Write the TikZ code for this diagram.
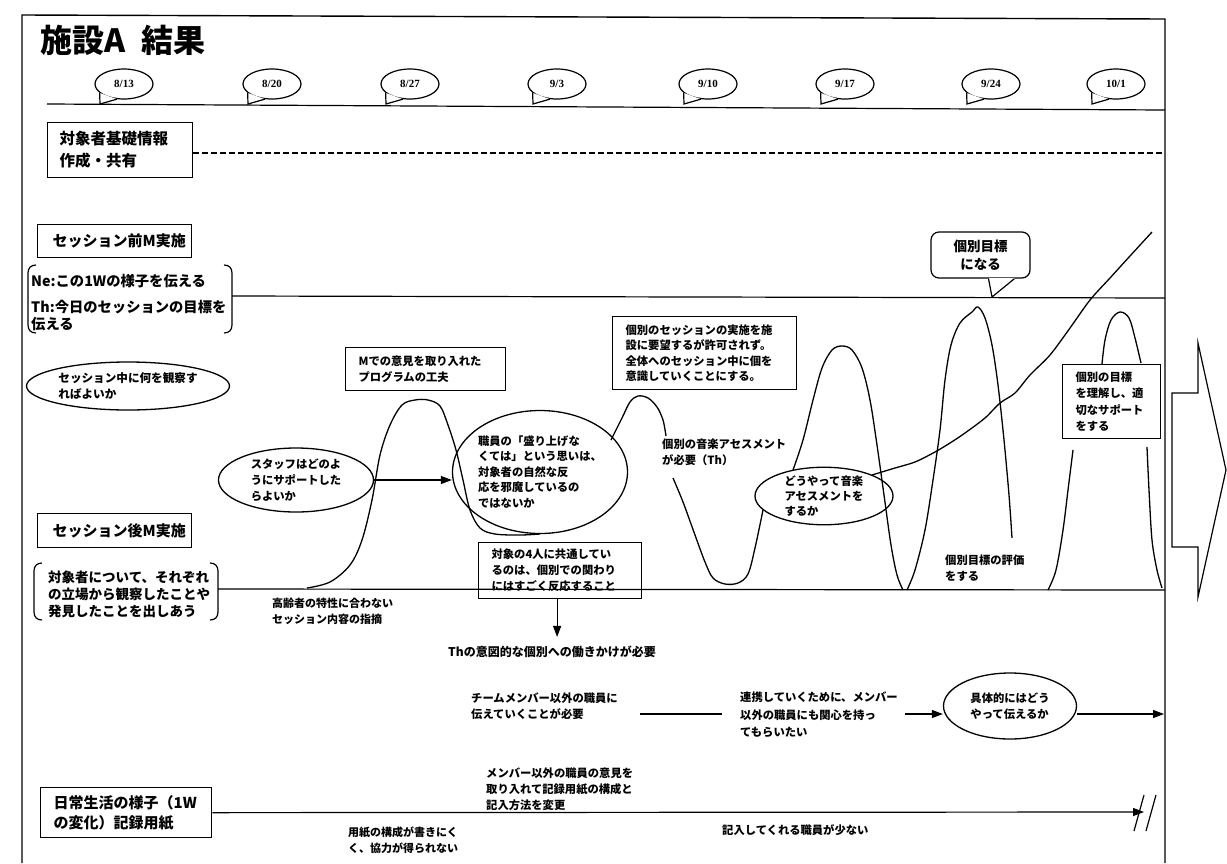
\documentclass[tikz,border=0pt]{standalone}
\usepackage{fontspec}
\setmainfont{Noto Sans CJK JP}
\newfontfamily\datefont{Liberation Serif}
\usetikzlibrary{arrows.meta,shapes.geometric,calc}
\tikzset{
 ln/.style={line width=1.2pt},
 outerframe/.style={line width=1.4pt},
 arr/.style={line width=1.2pt,-{Triangle[length=11pt,width=8pt]}},
 lblbox/.style={draw,line width=1.3pt,anchor=north west,inner ysep=0pt,align=left,font=\bfseries\fontsize{15}{21}\selectfont},
 ibox/.style={draw,line width=1.2pt,anchor=north west,inner ysep=0pt,align=left,font=\bfseries\fontsize{11.3}{16}\selectfont},
 ell/.style={draw,ellipse,line width=1.3pt,inner sep=0pt,align=left,font=\bfseries\fontsize{11.3}{16}\selectfont},
 txt/.style={anchor=west,inner sep=0pt,align=left,font=\bfseries\fontsize{11.3}{16}\selectfont},
 datebubble/.style={draw,ellipse,line width=1.2pt,minimum width=58pt,minimum height=30pt,inner sep=0pt,font=\datefont\bfseries\fontsize{11}{11}\selectfont},
 wave/.style={line width=1.3pt},
}
\newcommand\datebub[3]{%
 \node[datebubble] (#1) at (#2,84) {#3};
 \fill[white] (#1.200) -- ([shift={(-24,20)}]#1.center) -- (#1.245) -- cycle;
 \draw[ln] (#1.200) -- ([shift={(-24,20)}]#1.center) -- (#1.245);
}
\begin{document}
\begin{tikzpicture}[x=1pt,y=-1pt]
\useasboundingbox (0,0) rectangle (1227,863);
% outer frame
\draw[outerframe] (22,863) -- (22,15) -- (1165,19) -- (1165,863);
% title
\node[anchor=west,inner sep=0pt,font=\bfseries\fontsize{32}{32}\selectfont] (title) at (40,40) {施設A\hspace{0.5em}結果};
% date line and bubbles
\coordinate (dla) at (47,104);
\coordinate (dlb) at (1165,110);
\draw[ln] (dla) -- (dlb);
\datebub{d1}{124}{8/13}
\datebub{d2}{272}{8/20}
\datebub{d3}{410}{8/27}
\datebub{d4}{557}{9/3}
\datebub{d5}{708}{9/10}
\datebub{d6}{845}{9/17}
\datebub{d7}{991}{9/24}
\datebub{d8}{1116}{10/1}
% basic info box
\node[lblbox,minimum width=145pt,minimum height=55pt,text width=121pt,inner xsep=12pt,font=\bfseries\fontsize{15.5}{22}\selectfont] (kiso) at (47,122) {対象者基礎情報\\作成・共有};
\coordinate (dashend) at (1165,153);
\draw[ln,dash pattern=on 6pt off 3pt] (kiso.east |- dashend) -- (dashend);
% pre-session meeting
\node[lblbox,minimum width=154pt,minimum height=33pt,text width=124pt,inner xsep=15pt] (pre) at (37,224) {セッション前M実施};
\node[anchor=west,inner sep=0pt,align=left,font=\bfseries\fontsize{14.3}{17}\selectfont] (pretext) at (31,303) {Ne:この1Wの様子を伝える\\[9pt]Th:今日のセッションの目標を\\伝える};
\draw[ln] (36,265) .. controls (31,265) and (28,268) .. (28,273) -- (28,325) .. controls (28,330) and (31,333) .. (36,333);
\draw[ln] (224,265) .. controls (229,265) and (232,268) .. (232,273) -- (232,325) .. controls (232,330) and (229,333) .. (224,333);
\coordinate (prea) at (232,296);
\coordinate (preb) at (1165,298);
\draw[ln] (prea) -- (preb);
% observe ellipse
\node[ell,minimum width=203pt,minimum height=48pt,font=\bfseries\fontsize{11.6}{16}\selectfont] (obs) at (128,386) {セッション中に何を観察す\\ればよいか};
% M box
\node[ibox,minimum width=160pt,minimum height=43pt,text width=134pt,inner xsep=13pt] (mbox) at (345,347) {Mでの意見を取り入れた\\プログラムの工夫};
% individual session box
\node[ibox,minimum width=184pt,minimum height=73pt,text width=158pt,inner xsep=13pt,font=\bfseries\fontsize{11.3}{15.5}\selectfont] (ksess) at (612,316) {個別のセッションの実施を施\\設に要望するが許可されず。\\全体へのセッション中に個を\\意識していくことにする。};
% goal callout
\node[draw,line width=1.2pt,rounded corners=8pt,minimum width=99pt,minimum height=46pt,align=center,font=\bfseries\fontsize{13.5}{18}\selectfont] (goal) at (980.5,255) {個別目標\\になる};
\coordinate (goaltip) at (992,297);
\fill[white] ([xshift=8pt,yshift=1pt]goal.south) rectangle ([xshift=34pt,yshift=-1.5pt]goal.south);
\draw[ln] ([xshift=8pt]goal.south) -- (goaltip) -- ([xshift=34pt]goal.south);
% staff ellipse and big ellipse
\node[ell,minimum width=155pt,minimum height=64pt] (staff) at (296,480) {スタッフはどのよ\\うにサポートした\\らよいか};
\node[ell,minimum width=164pt,minimum height=123pt,font=\bfseries\fontsize{11.3}{15.5}\selectfont] (big) at (540,472) {職員の「盛り上げな\\くては」という思いは、\\対象者の自然な反\\応を邪魔しているの\\ではないか};
\draw[arr] (staff.east) -- (big.west |- staff.east);
% post-session meeting
\node[lblbox,minimum width=154pt,minimum height=34pt,text width=124pt,inner xsep=15pt] (post) at (37,513) {セッション後M実施};
\node[anchor=west,inner sep=0pt,align=left,font=\bfseries\fontsize{13.5}{17}\selectfont] (posttext) at (48,594) {対象者について、それぞれ\\の立場から観察したことや\\発見したことを出しあう};
\draw[ln] (42,563) .. controls (37,563) and (34,566) .. (34,571) -- (34,612) .. controls (34,617) and (37,620) .. (42,620);
\draw[ln] (210,563) .. controls (215,563) and (218,566) .. (218,571) -- (218,612) .. controls (218,617) and (215,620) .. (210,620);
\coordinate (posta) at (218,589);
\coordinate (postb) at (1165,590);
\draw[ln] (posta) -- (postb);
\node[txt,font=\bfseries\fontsize{11}{16}\selectfont] (elder) at (272,611) {高齢者の特性に合わない\\セッション内容の指摘};
% four persons box
\node[ibox,minimum width=163pt,minimum height=56pt,text width=137pt,inner xsep=13pt] (four) at (478,542) {対象の4人に共通してい\\るのは、個別での関わり\\にはすごく反応すること};
\node[txt,font=\bfseries\fontsize{12}{16}\selectfont] (th) at (448,652) {Thの意図的な個別への働きかけが必要};
\draw[arr,shorten >=9pt] ([xshift=-3pt]four.south) -- ([xshift=-3pt]four.south |- th.north);
% music assessment
\node[txt] (assess) at (662,452) {個別の音楽アセスメント\\が必要（Th）};
\node[ell,minimum width=138pt,minimum height=57pt,font=\bfseries\fontsize{11.3}{15}\selectfont] (how) at (824,496) {どうやって音楽\\アセスメントを\\するか};
\node[txt] (evalg) at (945,568) {個別目標の評価\\をする};
\node[ibox,minimum width=98pt,minimum height=74pt,text width=72pt,inner xsep=13pt,font=\bfseries\fontsize{11.3}{16.5}\selectfont] (under) at (1062,364) {個別の目標\\を理解し、適\\切なサポート\\をする};
% wave curve
\draw[wave] plot[smooth,tension=0.55] coordinates {(307,588) (330,582) (350,565) (362,540) (372,500) (380,455) (390,425) (402,405) (415,400) (428,400) (440,406) (448,425) (456,450) (463,480) (470,510) (480,528) (495,534) (520,535) (540,534)};
\draw[wave] plot[smooth,tension=0.55] coordinates {(611,440) (622,418) (630,402) (638,396) (648,398) (657,407) (663,420) (666,436)};
\draw[wave] plot[smooth,tension=0.55] coordinates {(673,478) (683,502) (695,535) (705,562) (713,578) (725,584) (738,583) (748,574) (755,548) (763,510)};
\draw[wave] plot[smooth,tension=0.55] coordinates {(793,470) (803,440) (813,400) (822,368) (832,350) (842,346) (852,350) (862,368) (870,400) (877,445) (884,495) (891,545) (897,575) (903,590)};
\draw[wave] plot[smooth,tension=0.55] coordinates {(907,590) (915,570) (925,530) (933,480) (940,430) (945,380) (951,345) (960,323) (972,312) (978,307) (985,318) (992,345) (998,385) (1004,440) (1009,495) (1012,538)};
\draw[wave] plot[smooth,tension=0.55] coordinates {(1048,590) (1056,570) (1063,530) (1068,490) (1073,450)};
\draw[wave] plot[smooth,tension=0.55] coordinates {(1102,364) (1105,340) (1111,320) (1120,312) (1129,318) (1135,338) (1141,363)};
\draw[wave] plot[smooth,tension=0.55] coordinates {(1147,447) (1149,490) (1152,540) (1157,570) (1162,588)};
% rising curve
\draw[wave] plot[smooth,tension=0.5] coordinates {(872,475) (895,468) (915,462) (935,452) (950,443) (965,433) (985,418) (1000,403) (1015,393) (1030,375) (1050,355) (1070,328) (1090,300) (1110,278) (1130,256) (1152,232)};
% big arrow
\draw[ln] (1172,393) -- (1198,393) -- (1198,343) -- (1226,470) -- (1198,597) -- (1198,547) -- (1172,547) -- cycle;
% staff communication row
\node[txt] (team) at (471,706) {チームメンバー以外の職員に\\伝えていくことが必要};
\coordinate (ta) at (640,714);
\coordinate (tb) at (722,714);
\draw[ln] (ta) -- (tb);
\node[txt,font=\bfseries\fontsize{11.3}{17.5}\selectfont] (coop) at (740,715) {連携していくために、メンバー\\以外の職員にも関心を持っ\\てもらいたい};
\node[ell,minimum width=133pt,minimum height=66pt] (gutai) at (1010,706) {具体的にはどう\\やって伝えるか};
\coordinate (ga) at (905,714);
\coordinate (gb) at (1164,714);
\draw[arr] (ga) -- (gutai.west |- ga);
\draw[arr] (gutai.east |- gb) -- (gb);
% daily life record
\node[txt] (change) at (486,789) {メンバー以外の職員の意見を\\取り入れて記録用紙の構成と\\記入方法を変更};
\node[lblbox,minimum width=171pt,minimum height=50pt,text width=145pt,inner xsep=13pt,font=\bfseries\fontsize{15}{20}\selectfont] (daily) at (40,787) {日常生活の様子（1W\\の変化）記録用紙};
\coordinate (dailyend) at (1144,812);
\draw[arr] (daily.east) -- (dailyend);
\draw[ln] (1134,831) -- (1144,795);
\draw[ln] (1146,831) -- (1156,795);
\node[txt,font=\bfseries\fontsize{11}{16}\selectfont] (paper) at (348,840) {用紙の構成が書きにく\\く、協力が得られない};
\node[txt] (few) at (722,830) {記入してくれる職員が少ない};
\end{tikzpicture}
\end{document}
